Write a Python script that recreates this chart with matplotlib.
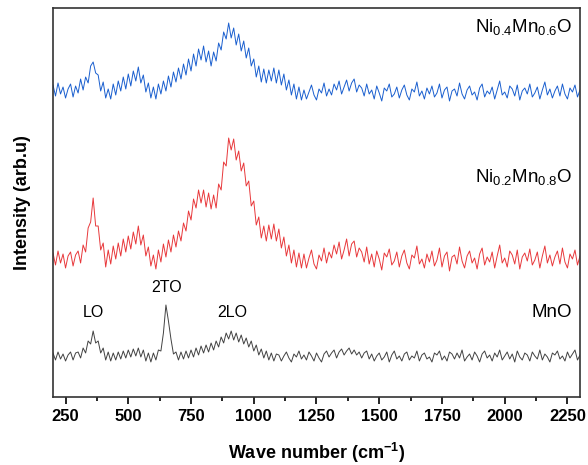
import numpy as np
import matplotlib
matplotlib.use("Agg")
import matplotlib.pyplot as plt
from matplotlib.ticker import MultipleLocator

plt.rcParams['font.family'] = ['Liberation Sans', 'DejaVu Sans']
plt.rcParams['mathtext.fontset'] = 'custom'
plt.rcParams['mathtext.rm'] = 'Liberation Sans'

# wave number grid, 10 cm-1 step
wavenumber = np.arange(200, 2301, 10)

# spectra (arb.u., each relative to its own baseline)
mno = [4, -3, 5, -2, 3, -4, 2, 5, -3, 4,
       5, -1, 9, 4, 16, 13, 26, 14, 16, 4,
       9, -3, 5, -4, 4, -3, 5, -2, 6, -1,
       7, 0, 8, 1, 9, 0, 7, -4, 4, -5,
       4, -3, 7, 6, 24, 52, 36, 18, 3, 5,
       -3, 5, -2, 6, -1, 7, 0, 9, 2, 11,
       4, 12, 5, 14, 7, 16, 10, 20, 14, 24,
       18, 26, 17, 24, 15, 22, 13, 19, 10, 16,
       6, 12, 2, 8, -1, 6, -3, 4, -4, 3,
       2, -4, 1, 5, -1, -5, 3, 0, 6, -2,
       2, -3, 5, 1, -4, 4, -1, -5, 3, 6,
       0, 4, 7, -1, 5, 8, 2, 6, 9, 3,
       7, 2, 5, -1, 4, 6, -2, 3, -4, 1,
       4, -3, 0, 5, -5, 2, 6, -2, 1, -4,
       3, 5, -3, 1, -1, 6, -4, 2, 4, -2,
       0, -5, 4, 2, 6, -3, 1, -4, 5, 3,
       -2, 4, -1, 7, -4, 0, 3, -3, 5, 1,
       -5, 3, 6, -1, 2, -4, 4, 0, 7, -3,
       1, 5, -2, 3, -5, 6, 0, -3, 4, 2,
       -4, 5, 1, -2, 7, -3, 3, 0, -5, 4,
       2, 6, -2, 1, -4, 5, -1, 3, 7, -3,
       2]

ni02 = [7, -5, 9, -3, 6, -8, 4, 8, -6, 5,
        9, -3, 15, 8, 32, 38, 62, 34, 34, 10,
        17, -7, 10, -4, 14, 1, 17, 4, 21, 8,
        24, 11, 28, 16, 34, 15, 25, 4, 13, -6,
        5, -9, 10, -2, 16, 3, 20, 8, 25, 13,
        29, 19, 37, 29, 49, 40, 61, 52, 70, 57,
        70, 53, 67, 51, 65, 52, 76, 70, 98, 94,
        122, 110, 121, 100, 109, 89, 97, 74, 79, 54,
        59, 35, 43, 22, 34, 19, 35, 21, 36, 19,
        31, 12, 23, 4, 15, -3, 10, -7, 7, -8,
        6, -8, 2, 10, -4, -9, 5, -1, 12, -3,
        8, 2, 15, 6, 18, 1, 10, 21, 4, 16,
        19, 3, 12, 8, -2, 13, -4, 6, -7, 9,
        1, -10, 7, 3, 11, -5, -1, 8, -7, 4,
        10, -3, -9, 5, 2, 14, -4, 1, -8, 6,
        -2, 9, -6, 0, 12, -7, 4, 8, -11, 3,
        5, -4, 13, -1, -8, 4, 9, -3, 2, -9,
        6, 12, -5, 3, -2, 8, -8, 4, 15, -3,
        2, -7, 9, 5, -4, 10, -9, 3, 7, -1,
        11, -5, 0, 8, -8, 4, 14, -3, 5, -6,
        3, 9, -4, 12, -2, -8, 6, 1, 10, -5,
        4]

ni04 = [8, -3, 10, -1, 6, -5, 4, 9, -4, 7,
        0, 14, 3, 16, 10, 27, 31, 20, 18, 2,
        11, -5, 4, -6, 9, -2, 12, 2, 16, 4,
        19, 7, 22, 12, 26, 10, 18, 1, 10, -5,
        6, -6, 9, -1, 12, 2, 17, 6, 21, 11,
        25, 14, 29, 18, 34, 22, 39, 27, 44, 33,
        47, 31, 42, 27, 41, 32, 50, 43, 61, 54,
        70, 55, 65, 48, 59, 42, 52, 35, 45, 27,
        34, 16, 27, 11, 24, 10, 23, 12, 25, 10,
        23, 8, 19, 3, 13, -2, 9, -6, 6, -7,
        3, -6, 1, 8, -2, -7, 4, 0, 10, -3,
        4, -2, 9, 3, 12, -1, 6, 13, 2, 10,
        14, 1, 8, 5, -3, 9, -1, 3, -6, 7,
        0, -8, 5, 2, 9, -4, -1, 6, -5, 3,
        8, -2, -7, 4, 1, 11, -3, 2, -6, 5,
        -1, 7, -4, 0, 9, -5, 3, 6, -8, 2,
        4, -3, 10, -1, -6, 3, 7, -2, 1, -7,
        5, 9, -4, 2, -1, 6, -6, 3, 12, -2,
        1, -5, 7, 4, -3, 8, -7, 2, 5, -1,
        9, -4, 0, 6, -6, 3, 11, -2, 4, -5,
        2, 7, -3, 9, -1, -6, 5, 1, 8, -4,
        3]

offsets = [40, 137, 304]
names = [r'MnO', r'Ni$\mathregular{_{0.2}}$Mn$\mathregular{_{0.8}}$O',
         r'Ni$\mathregular{_{0.4}}$Mn$\mathregular{_{0.6}}$O']
colors = ['#424242', '#e8383b', '#1a5fcf']

fig = plt.figure(figsize=(5.88, 4.65), dpi=100)
ax = fig.add_axes([53/588, 1-397/465, (580-53)/588, (397-8)/465])

for spec, off, c in zip([mno, ni02, ni04], offsets, colors):
    ax.plot(wavenumber, np.array(spec) + off, color=c, lw=0.7)

ax.set_xlim(200, 2300)
ax.set_ylim(0, 389)

# sample labels, right aligned
ax.text(2268, 370, names[2], ha='right', va='center', fontsize=13.5)
ax.text(2268, 220, names[1], ha='right', va='center', fontsize=13.5)
ax.text(2268, 85, names[0], ha='right', va='center', fontsize=13.5)

# peak labels on MnO
ax.text(359, 85, 'LO', ha='center', va='center', fontsize=11.5)
ax.text(654, 110, '2TO', ha='center', va='center', fontsize=11.5)
ax.text(913, 85, '2LO', ha='center', va='center', fontsize=11.5)

ax.xaxis.set_major_locator(MultipleLocator(250))
ax.xaxis.set_minor_locator(MultipleLocator(125))
ax.tick_params(axis='x', which='major', direction='out', length=5, width=1.2, labelsize=12)
ax.tick_params(axis='x', which='minor', direction='out', length=3, width=1.2)
ax.set_yticks([])
for lab in ax.get_xticklabels():
    lab.set_fontweight('bold')
for sp in ax.spines.values():
    sp.set_linewidth(1.2)
    sp.set_color('#333333')

ax.set_xlabel(r'Wave number (cm$\mathregular{^{-1}}$)', fontsize=13, fontweight='bold', labelpad=12)
ax.set_ylabel('Intensity (arb.u)', fontsize=13, fontweight='bold', labelpad=16)

plt.savefig('out.png', dpi=100)
